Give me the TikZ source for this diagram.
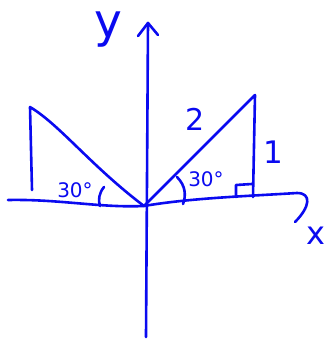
\documentclass[tikz,border=0pt]{standalone}
\usepackage{fontspec}
\setmainfont{DejaVu Sans}
\definecolor{pen}{RGB}{10,10,240}
\begin{document}
\begin{tikzpicture}[x=1pt,y=-1pt,
  ink/.style={draw=pen,line width=2.6pt,line cap=round,line join=round},
  lbl/.style={text=pen,inner sep=0pt,anchor=base}]
\useasboundingbox (0,0) rectangle (327,341);
% points
\coordinate (O) at (144,206);
\coordinate (ytop) at (148,23);
\coordinate (ybot) at (146,337);
\coordinate (xl) at (8,200);
\coordinate (xr) at (297,193);
\coordinate (R) at (255,95);
\coordinate (Rb) at (253,197);
\coordinate (L) at (30,107);
\coordinate (Lb) at (32,190);
% axes
\draw[ink] (ybot) -- (ytop);
\draw[ink] (138,36) -- (ytop) -- (158,35);
\draw[ink] (xl) .. controls (60,199) and (100,208) .. (O);
\draw[ink] (O) .. controls (190,198) and (250,196) .. (xr)
  .. controls (312,193) and (310,207) .. (295,222);
% right triangle
\draw[ink] (O) -- (R) -- (Rb);
\draw[ink] (236,197) -- (236,185) -- (252,184);
\draw[ink] (177,177) .. controls (186,186) and (186,196) .. (183,204);
% left triangle
\draw[ink] (Lb) -- (L) .. controls (60,125) and (90,165) .. (O);
\draw[ink] (104,187) .. controls (99,193) and (98,200) .. (100,206);
% labels
\node[lbl,text height=0.56em,font=\fontsize{47}{47}\selectfont] (ylab) at (108,37) {y};
\node[lbl,font=\fontsize{32}{32}\selectfont] (xlab) at (316,244) {x};
\node[lbl,font=\fontsize{30}{30}\selectfont] (two) at (195,130) {2};
\node[lbl,font=\fontsize{31}{31}\selectfont] (one) at (273,163) {1};
\node[lbl,font=\fontsize{20}{20}\selectfont] (a1) at (206,186) {30°};
\node[lbl,font=\fontsize{20}{20}\selectfont] (a2) at (75,197) {30°};
\end{tikzpicture}
\end{document}
